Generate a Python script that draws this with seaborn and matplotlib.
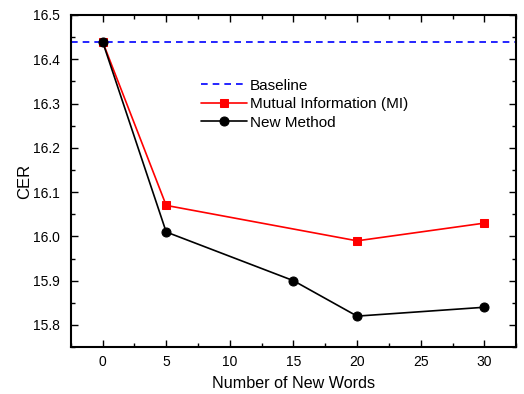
import numpy as np
import pandas as pd
import matplotlib
matplotlib.use("Agg")
import matplotlib.pyplot as plt
import seaborn as sns
from matplotlib.ticker import MultipleLocator

# data
baseline = 16.44
mi_words = [0, 5, 20, 30]
mi_cer = [16.44, 16.07, 15.99, 16.03]
new_words = [0, 5, 15, 20, 30]
new_cer = [16.44, 16.01, 15.90, 15.82, 15.84]

sns.set_theme(style="ticks")
plt.rcParams['font.family'] = ['Liberation Sans', 'DejaVu Sans']
plt.rcParams['text.color'] = 'black'
plt.rcParams['axes.labelcolor'] = 'black'

fig = plt.figure(figsize=(5.24, 3.94), dpi=100)
ax = fig.add_axes([0.135, 0.119, 0.850, 0.843])

ax.axhline(baseline, color="#0000ff", linestyle=(0, (4, 3)), linewidth=1.2, label="Baseline")

df_mi = pd.DataFrame({"words": mi_words, "cer": mi_cer})
df_new = pd.DataFrame({"words": new_words, "cer": new_cer})

sns.lineplot(data=df_mi, x="words", y="cer", color="#ff0000", marker="s", markersize=5.5,
             markeredgecolor="#ff0000", linewidth=1.2, label="Mutual Information (MI)", ax=ax)
sns.lineplot(data=df_new, x="words", y="cer", color="black", marker="o", markersize=6.5,
             markeredgecolor="black", linewidth=1.2, label="New Method", ax=ax)

ax.set_xlim(-2.5, 32.5)
ax.set_ylim(15.75, 16.5)
ax.xaxis.set_major_locator(MultipleLocator(5))
ax.xaxis.set_minor_locator(MultipleLocator(2.5))
ax.yaxis.set_major_locator(MultipleLocator(0.1))
ax.yaxis.set_minor_locator(MultipleLocator(0.05))
ax.yaxis.set_major_formatter(matplotlib.ticker.FormatStrFormatter("%.1f"))

ax.tick_params(which="both", direction="in", top=True, right=True, labelsize=10, colors="black")
ax.tick_params(which="major", length=5, width=1, pad=8)
ax.tick_params(axis="x", which="major", pad=6)
ax.tick_params(which="minor", length=3, width=1)
for s in ax.spines.values():
    s.set_linewidth(1.5)
    s.set_color("black")

ax.set_xlabel("Number of New Words", fontsize=11.6, labelpad=5, color="black")
ax.set_ylabel("CER", fontsize=12, labelpad=0.5, color="black")

ax.legend(loc="upper left", bbox_to_anchor=(0.262, 0.85), frameon=False, fontsize=11,
          handlelength=3.0, handletextpad=0.2, labelspacing=0.3)

plt.savefig("out.png", dpi=100)
